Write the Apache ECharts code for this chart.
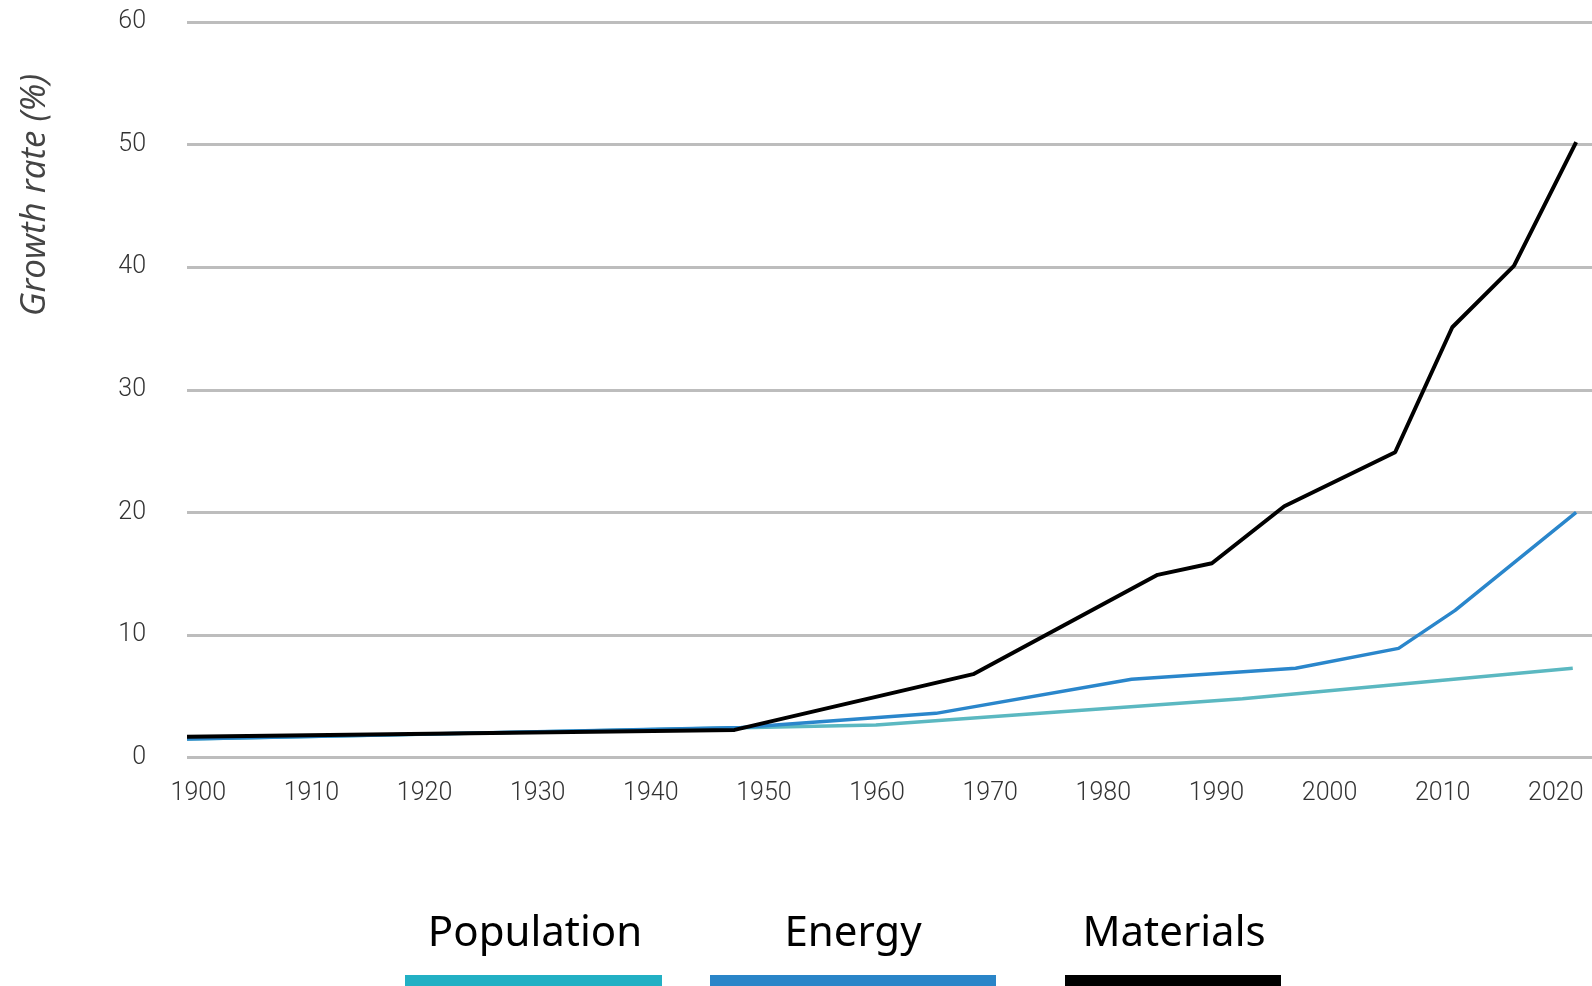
<!DOCTYPE html>
<html>
<head>
<meta charset="utf-8">
<script src="https://cdn.jsdelivr.net/npm/echarts@6/dist/echarts.min.js"></script>
<style>
html,body{margin:0;padding:0;background:#fff;}
#chart{width:1592px;height:986px;}
</style>
</head>
<body>
<div id="chart"></div>
<script>
// Data: [year, growth rate %]
const populationData = [[1899.0,1.5],[1948.0,2.42],[1959.9,2.65],[1992.3,4.8],[2021.5,7.28]];
const energyData = [[1899.0,1.5],[1948.0,2.45],[1965.2,3.6],[1982.5,6.38],[1997.0,7.28],[2006.1,8.9],[2011.1,12.0],[2021.8,20.0]];
const materialsData = [[1899.0,1.7],[1947.4,2.25],[1968.5,6.8],[1984.8,14.9],[1989.6,15.85],[1996.0,20.5],[2005.8,24.9],[2010.85,35.1],[2016.3,40.1],[2021.8,50.2]];
const xTickLabels = [1900,1910,1920,1930,1940,1950,1960,1970,1980,1990,2000,2010,2020];
const seriesNames = ['Population','Energy','Materials'];
const lineColors = ['#5BB8C1','#2A86CB','#000000'];
const legendColors = ['#22B0C4','#2A85C8','#000000'];

const chart = echarts.init(document.getElementById('chart'));
const tickFont = {fontFamily:'Roboto', fontWeight:300, fontSize:25, color:'#333'};

const legendItems = [
  {label: seriesNames[0], cx: 535, x: 405, w: 257},
  {label: seriesNames[1], cx: 853, x: 710, w: 286},
  {label: seriesNames[2], cx: 1174, x: 1065, w: 216}
];
const graphics = [{
  type:'text', rotation: Math.PI/2, x: 35, y: 195,
  style:{text:'Growth rate (%)', font:'italic 35px "Open Sans"', fill:'#444', align:'center', verticalAlign:'middle'}
}];
legendItems.forEach((it,i)=>{
  graphics.push({type:'text', x: it.cx, y: 934, style:{text: it.label, font:'42px "Noto Sans"', fill:'#000', align:'center', verticalAlign:'middle'}});
  graphics.push({type:'rect', shape:{x: it.x, y: 975, width: it.w, height: 11}, style:{fill: legendColors[i]}});
});

chart.setOption({
  animation:false,
  grid:{left:187, right:0, top:22, bottom:228.5, containLabel:false},
  xAxis:{
    type:'value', min:1899, max:2023.2,
    axisLine:{show:false}, axisTick:{show:false}, splitLine:{show:false},
    axisLabel: Object.assign({margin:24, customValues: xTickLabels, formatter: v=>String(v)}, tickFont)
  },
  yAxis:{
    type:'value', min:0, max:60, interval:10,
    axisLine:{show:false}, axisTick:{show:false},
    splitLine:{lineStyle:{color:'#BDBDBD', width:3}},
    axisLabel: Object.assign({margin:41}, tickFont)
  },
  graphic: graphics,
  series:[
    {name:seriesNames[0], type:'line', data:populationData, symbol:'none', lineStyle:{color:lineColors[0], width:3.5}, z:2},
    {name:seriesNames[1], type:'line', data:energyData, symbol:'none', lineStyle:{color:lineColors[1], width:3.5}, z:3},
    {name:seriesNames[2], type:'line', data:materialsData, symbol:'none', lineStyle:{color:lineColors[2], width:4}, z:4}
  ]
});
</script>
</body>
</html>
